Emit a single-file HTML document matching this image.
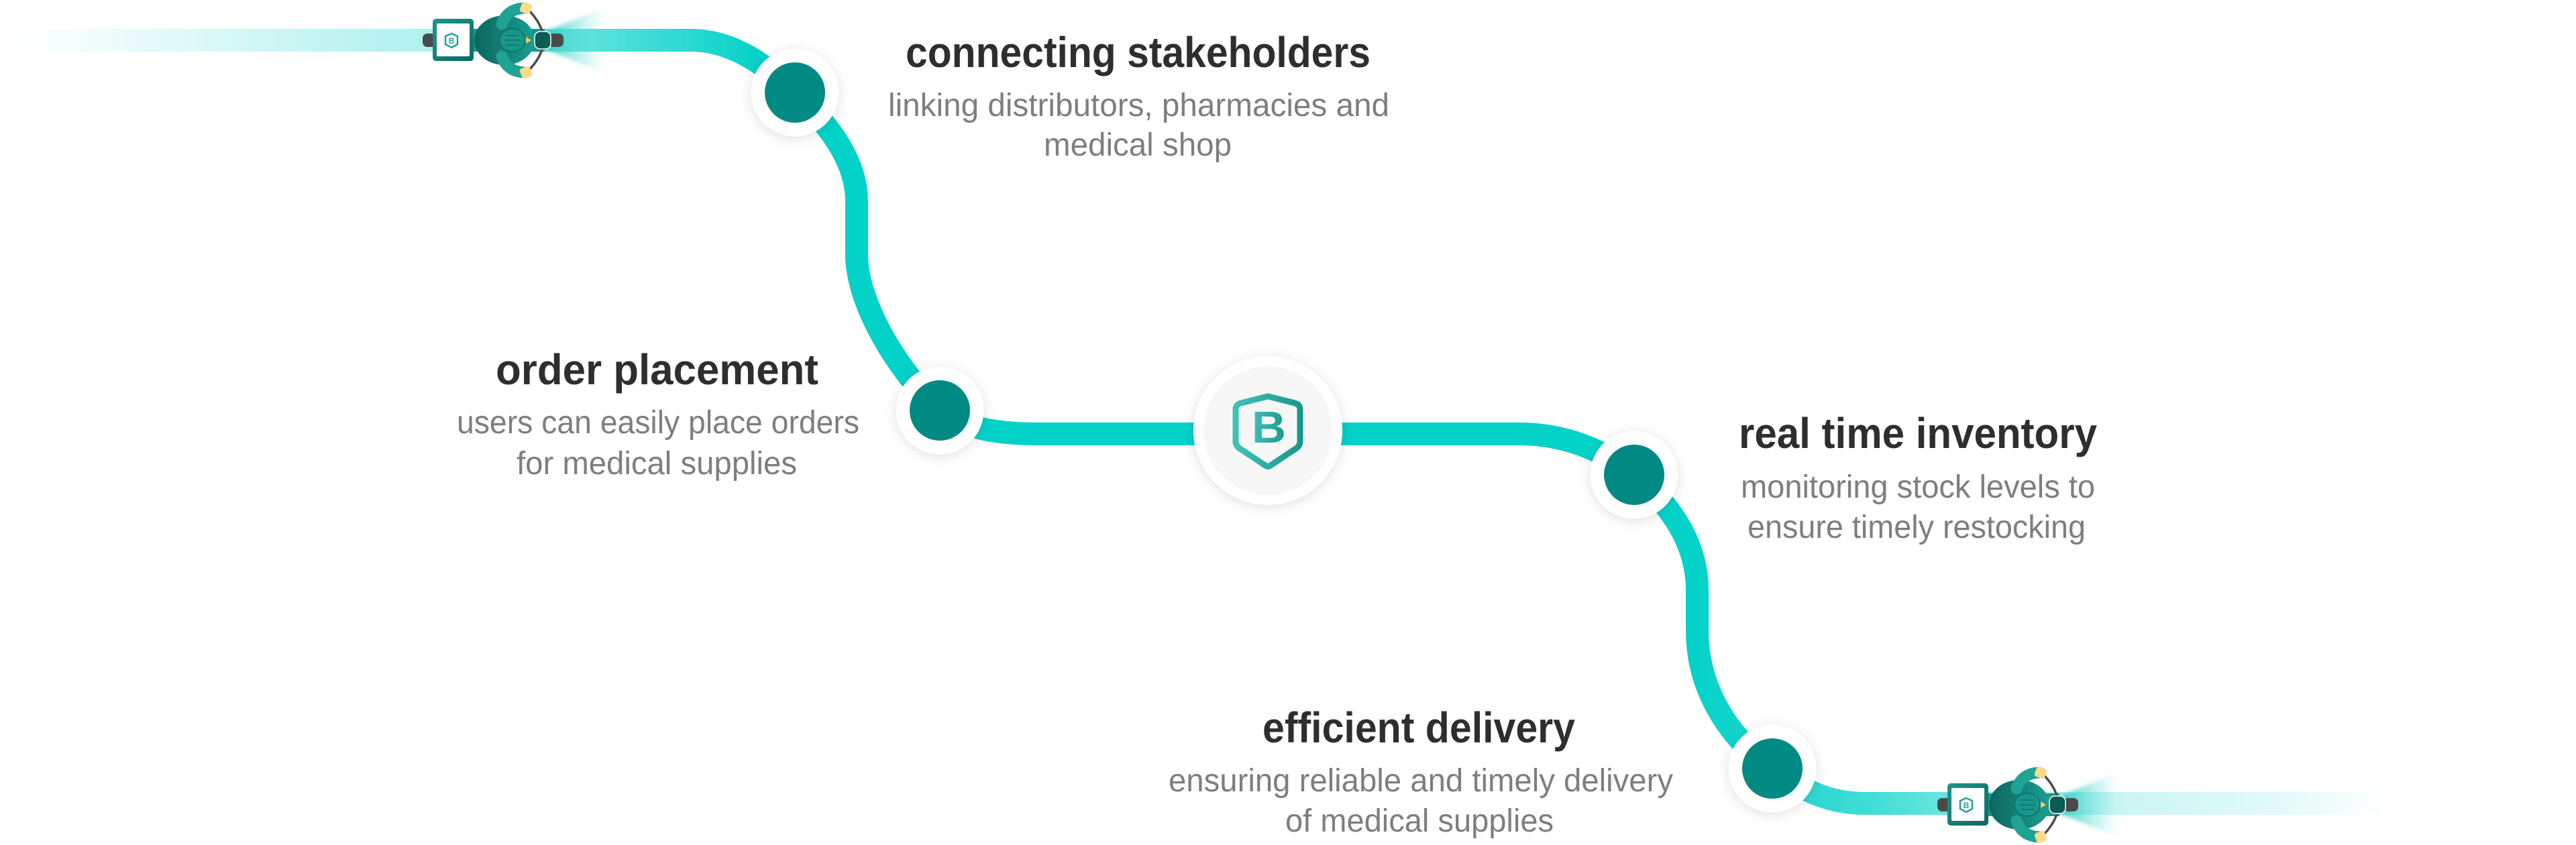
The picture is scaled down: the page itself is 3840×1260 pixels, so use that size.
<!DOCTYPE html>
<html>
<head>
<meta charset="utf-8">
<style>
  html,body{margin:0;padding:0;background:#ffffff;}
  body{width:3840px;height:1260px;overflow:hidden;}
  svg{display:block;}
  .t{font-family:"Liberation Sans",Arial,sans-serif;font-weight:bold;font-size:64px;fill:#2e2e2e;}
  .s{font-family:"Liberation Sans",Arial,sans-serif;font-weight:normal;font-size:48px;fill:#7e7e7e;}
</style>
</head>
<body>
<svg width="3840" height="1260" viewBox="0 0 3840 1260" xmlns="http://www.w3.org/2000/svg">
  <defs>
    <linearGradient id="lineg" gradientUnits="userSpaceOnUse" x1="30" y1="0" x2="3560" y2="0">
      <stop offset="0" stop-color="#03d2c9" stop-opacity="0"/>
      <stop offset="0.174" stop-color="#03d2c9" stop-opacity="0.32"/>
      <stop offset="0.241" stop-color="#03d2c9" stop-opacity="0.65"/>
      <stop offset="0.283" stop-color="#03d2c9" stop-opacity="0.85"/>
      <stop offset="0.312" stop-color="#03d2c9" stop-opacity="1"/>
      <stop offset="0.705" stop-color="#03d2c9" stop-opacity="1"/>
      <stop offset="0.739" stop-color="#03d2c9" stop-opacity="0.9"/>
      <stop offset="0.782" stop-color="#03d2c9" stop-opacity="0.75"/>
      <stop offset="0.813" stop-color="#03d2c9" stop-opacity="0.6"/>
      <stop offset="0.884" stop-color="#03d2c9" stop-opacity="0.22"/>
      <stop offset="0.95" stop-color="#03d2c9" stop-opacity="0.12"/>
      <stop offset="1" stop-color="#03d2c9" stop-opacity="0"/>
    </linearGradient>
    <linearGradient id="cone" x1="0" y1="0" x2="1" y2="0">
      <stop offset="0" stop-color="#29cbc1" stop-opacity="0.9"/>
      <stop offset="1" stop-color="#6fe3dc" stop-opacity="0"/>
    </linearGradient>
    <linearGradient id="boxg" x1="0" y1="0" x2="1" y2="1">
      <stop offset="0" stop-color="#1d9688"/>
      <stop offset="1" stop-color="#0c6a62"/>
    </linearGradient>
    <linearGradient id="bodyg" x1="0" y1="0" x2="1" y2="0">
      <stop offset="0" stop-color="#0c655e"/>
      <stop offset="1" stop-color="#1b9e91"/>
    </linearGradient>
    <linearGradient id="logog" x1="0" y1="0" x2="1" y2="0">
      <stop offset="0" stop-color="#3fc2b7"/>
      <stop offset="1" stop-color="#1a978b"/>
    </linearGradient>
    <filter id="sh" x="-50%" y="-50%" width="200%" height="200%">
      <feDropShadow dx="0" dy="3" stdDeviation="9" flood-color="#000" flood-opacity="0.12"/>
    </filter>
    <filter id="blur" x="-30%" y="-30%" width="160%" height="160%">
      <feGaussianBlur stdDeviation="3"/>
    </filter>
  </defs>

  <!-- main path -->
  <path d="M30 60 H1030 C1090 60 1140 95 1185 138 C1235 185 1277 240 1277 300 V380 C1277 450 1335 550 1401 612 C1440 640 1490 647 1547 647 H2265 C2330 647 2390 670 2436 708 C2490 752 2530 810 2530 880 V940 C2530 1020 2570 1095 2642 1146 C2680 1173 2720 1198 2780 1198 H3560"
        fill="none" stroke="url(#lineg)" stroke-width="34"/>

  <!-- riders -->
  <g id="rider">
    <polygon points="812,47 900,12 900,108 812,73" fill="url(#cone)" filter="url(#blur)"/>
    <rect x="630" y="50" width="20" height="20" rx="7" fill="#4a4a4a"/>
    <rect x="700" y="43" width="112" height="34" fill="#1b978a"/>
    <rect x="645" y="28" width="61" height="63" rx="5" fill="url(#boxg)"/>
    <rect x="651" y="35" width="49" height="49" rx="2" fill="#ffffff"/>
    <path d="M673,50 L682,54 L682,66 L673,71 L664,66 L664,54 Z" fill="none" stroke="#22a193" stroke-width="2.5"/>
    <text x="673" y="65" font-family="Liberation Sans, sans-serif" font-size="12" font-weight="bold" text-anchor="middle" fill="#22a193">B</text>
    <ellipse cx="752" cy="60" rx="45" ry="37" fill="url(#bodyg)"/>
    <path d="M748,36 Q756,13 782,12" stroke="#1fa395" stroke-width="17" fill="none" stroke-linecap="round"/>
    <path d="M748,84 Q756,107 782,108" stroke="#1fa395" stroke-width="17" fill="none" stroke-linecap="round"/>
    <path d="M786,13 Q834,60 786,107" stroke="#4b4b4b" stroke-width="3.5" fill="none"/>
    <rect x="776" y="4" width="16" height="16" rx="4" fill="#fcd98b" transform="rotate(20 784 12)"/>
    <rect x="776" y="100" width="16" height="16" rx="4" fill="#fcd98b" transform="rotate(-20 784 108)"/>
    <ellipse cx="764" cy="60" rx="19" ry="17" fill="#17978b" stroke="#0f6f67" stroke-width="1.5"/>
    <line x1="754" y1="53" x2="774" y2="53" stroke="#11796f" stroke-width="2"/>
    <line x1="752" y1="60" x2="776" y2="60" stroke="#11796f" stroke-width="2"/>
    <line x1="754" y1="67" x2="774" y2="67" stroke="#11796f" stroke-width="2"/>
    <polygon points="784,55 792,60 784,65" fill="#f6c96a"/>
    <rect x="818" y="50" width="22" height="20" rx="7" fill="#4a4a4a"/>
    <rect x="797" y="47" width="24" height="26" rx="8" fill="#0b5c55" stroke="#ffffff" stroke-width="1.5"/>
  </g>
  <use href="#rider" transform="translate(2258,1140)"/>

  <!-- nodes -->
  <g filter="url(#sh)">
    <circle cx="1185" cy="138" r="65.5" fill="#ffffff"/>
    <circle cx="1401" cy="612" r="65.5" fill="#ffffff"/>
    <circle cx="2436" cy="708" r="65.5" fill="#ffffff"/>
    <circle cx="2642" cy="1146" r="65.5" fill="#ffffff"/>
    <circle cx="1890" cy="642" r="111" fill="#ffffff"/>
  </g>
  <circle cx="1185" cy="138" r="45" fill="#018a83"/>
  <circle cx="1401" cy="612" r="45" fill="#018a83"/>
  <circle cx="2436" cy="708" r="45" fill="#018a83"/>
  <circle cx="2642" cy="1146" r="45" fill="#018a83"/>

  <!-- center logo -->
  <circle cx="1890" cy="642" r="96" fill="#f7f7f7"/>
  <path d="M1890,591 L1930,601 Q1938,603 1938,611 L1938,658 Q1938,664 1933,668 L1894,694 Q1890,697 1886,694 L1847,668 Q1842,664 1842,658 L1842,611 Q1842,603 1850,601 Z"
        fill="none" stroke="url(#logog)" stroke-width="9" stroke-linejoin="round"/>
  <text x="1866" y="660" font-family="Liberation Sans, sans-serif" font-size="67" font-weight="bold" fill="url(#logog)" textLength="51" lengthAdjust="spacingAndGlyphs">B</text>

  <!-- texts -->
  <text class="t" x="1350" y="100" textLength="693" lengthAdjust="spacingAndGlyphs">connecting stakeholders</text>
  <text class="s" x="1324" y="173" textLength="747" lengthAdjust="spacingAndGlyphs">linking distributors, pharmacies and</text>
  <text class="s" x="1556" y="232" textLength="280" lengthAdjust="spacingAndGlyphs">medical shop</text>

  <text class="t" x="739" y="573" textLength="481" lengthAdjust="spacingAndGlyphs">order placement</text>
  <text class="s" x="681" y="646" textLength="600" lengthAdjust="spacingAndGlyphs">users can easily place orders</text>
  <text class="s" x="770" y="707" textLength="418" lengthAdjust="spacingAndGlyphs">for medical supplies</text>

  <text class="t" x="2592" y="668" textLength="534" lengthAdjust="spacingAndGlyphs">real time inventory</text>
  <text class="s" x="2595" y="742" textLength="528" lengthAdjust="spacingAndGlyphs">monitoring stock levels to</text>
  <text class="s" x="2605" y="802" textLength="504" lengthAdjust="spacingAndGlyphs">ensure timely restocking</text>

  <text class="t" x="1882" y="1107" textLength="466" lengthAdjust="spacingAndGlyphs">efficient delivery</text>
  <text class="s" x="1742" y="1180" textLength="752" lengthAdjust="spacingAndGlyphs">ensuring reliable and timely delivery</text>
  <text class="s" x="1916" y="1240" textLength="400" lengthAdjust="spacingAndGlyphs">of medical supplies</text>
</svg>
</body>
</html>
